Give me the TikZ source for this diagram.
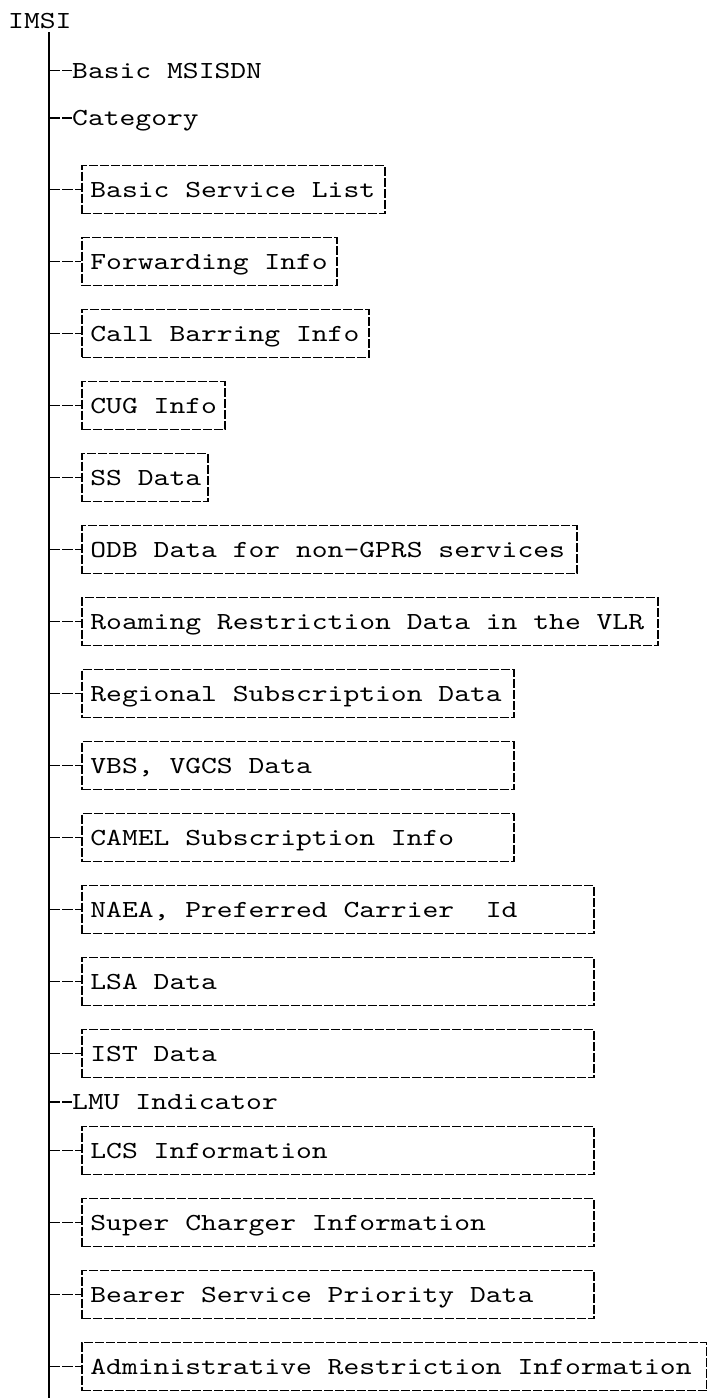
\documentclass[tikz,border=0pt]{standalone}
\usepackage{fontspec}
\newfontfamily\courfont{lmmono10-regular}[Extension=.otf, FakeStretch=1.23]
\frenchspacing
\begin{document}
\begin{tikzpicture}[x=1pt,y=1pt,
  every node/.style={font=\courfont\fontsize{24.5}{28}\selectfont, inner sep=0pt, text height=15pt, text depth=0pt},
  leaf/.style={anchor=west},
  itembox/.style={draw, line width=1.8pt, dash pattern=on 9pt off 2pt, anchor=west, minimum height=48pt, inner xsep=8.5pt},
  trunkline/.style={line width=1.5pt},
  branch/.style={line width=1.7pt, dash pattern=on 11pt off 2.2pt},
  teetick/.style={line width=1.8pt}]
\fill[white] (0,0) rectangle (707,-1398);
\useasboundingbox (0,0) rectangle (707,-1398);

\node[leaf] (imsi) at (8,-20.8) {IMSI};
\coordinate (trunkbot) at (49,-1398);
\draw[trunkline, shorten <=3.5pt] (imsi.south -| trunkbot) -- (trunkbot);

% plain text leaves
\foreach \n/\y/\t in {msisdn/70.5/{Basic MSISDN}, cat/118.3/{Category}, lmu/1102/{LMU Indicator}} {
  \node[leaf] (\n) at (72,-\y) {\t};
  \coordinate (b\n) at (49,-\y);
  \draw[branch] (b\n) -- (\n.west);
  \draw[teetick] ([yshift=10pt]b\n) -- ([yshift=-10pt]b\n);
}

% boxed leaves
\foreach \n/\y/\w/\t in {
  bsl/189.5/303/{Basic Service List},
  fwd/261.5/255/{Forwarding Info},
  cbi/333.5/287/{Call Barring Info},
  cug/405.5/143/{CUG Info},
  ss/477.5/126/{SS Data},
  odb/549.5/495/{ODB Data for non-GPRS services},
  roam/621.5/576/{Roaming Restriction Data in the VLR},
  reg/693.5/432/{Regional Subscription Data},
  vbs/765.5/432/{VBS, VGCS Data},
  camel/837.5/432/{CAMEL Subscription Info},
  naea/909.5/512/{NAEA, Preferred Carrier\ \ Id},
  lsa/981.5/512/{LSA Data},
  ist/1053.5/512/{IST Data},
  lcs/1150.5/512/{LCS Information},
  super/1222.5/512/{Super Charger Information},
  bearer/1294.5/512/{Bearer Service Priority Data},
  admin/1366.5/625/{Administrative Restriction Information}} {
  \node[itembox] (\n) at (81,-\y) {\makebox[\dimexpr\w pt-17pt\relax][l]{\t}};
  \coordinate (b\n) at (49,-\y);
  \draw[branch] (b\n) -- (\n.west);
  \draw[teetick] ([yshift=10pt]b\n) -- ([yshift=-10pt]b\n);
}
\end{tikzpicture}
\end{document}
